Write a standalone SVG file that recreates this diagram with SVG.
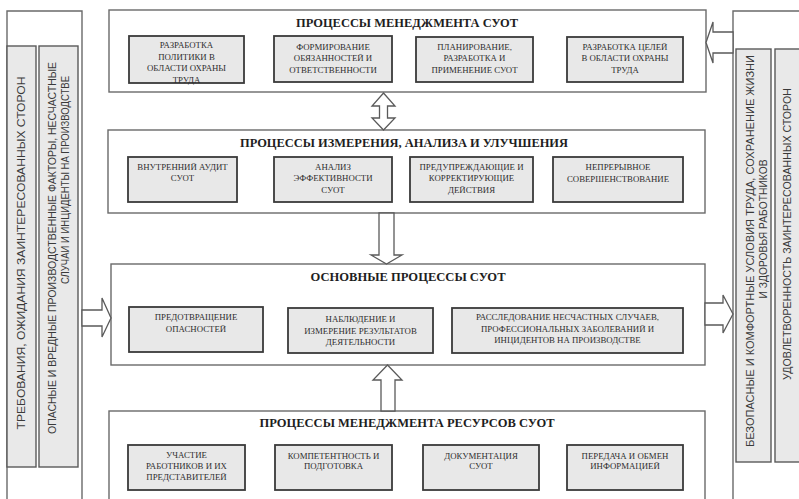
<svg xmlns="http://www.w3.org/2000/svg" width="799" height="499" viewBox="0 0 799 499">
<style>
.bg{fill:#fff}
.frame{fill:#fff;stroke:#6a6a6a;stroke-width:1.4}
.open{fill:none;stroke:#6a6a6a;stroke-width:1.4}
.strip{fill:#e9e9e9;stroke:#5a5a5a;stroke-width:1.4}
.sub{fill:#e8e8e8;stroke:#3a3a3a;stroke-width:1.8}
.arrow{fill:#fff;stroke:#5a5a5a;stroke-width:1.3;stroke-linejoin:miter}
.title{font-family:"Liberation Serif","Times New Roman",serif;font-weight:bold;font-size:12px;fill:#1e1e1e;text-anchor:middle}
.lbl{font-family:"Liberation Serif","Times New Roman",serif;font-size:8.8px;fill:#2e2e2e;text-anchor:middle}
.vt{font-family:"Liberation Sans",Arial,sans-serif;fill:#3a3a3a;text-anchor:middle}
</style>
<rect class="bg" x="0" y="0" width="799" height="499"/>

<g id="left-panel">
  <path class="open" d="M7,499 V11 H82 V499"/>
  <rect class="strip" x="7" y="46" width="29" height="421"/>
  <rect class="strip" x="39" y="46" width="39" height="421"/>
  <text class="vt" font-size="11.5" transform="translate(25,253) rotate(-90)" textLength="353" lengthAdjust="spacingAndGlyphs">ТРЕБОВАНИЯ, ОЖИДАНИЯ ЗАИНТЕРЕСОВАННЫХ СТОРОН</text>
  <text class="vt" font-size="10" transform="translate(56,248) rotate(-90)" textLength="372" lengthAdjust="spacingAndGlyphs">ОПАСНЫЕ И ВРЕДНЫЕ ПРОИЗВОДСТВЕННЫЕ ФАКТОРЫ, НЕСЧАСТНЫЕ</text>
  <text class="vt" font-size="10" transform="translate(69,180) rotate(-90)" textLength="208" lengthAdjust="spacingAndGlyphs">СЛУЧАИ И ИНЦИДЕНТЫ НА ПРОИЗВОДСТВЕ</text>
</g>

<g id="right-panel">
  <path class="open" d="M733,499 V11 H799"/>
  <rect class="strip" x="736" y="49" width="35" height="413"/>
  <rect class="strip" x="775" y="49" width="30" height="413"/>
  <text class="vt" font-size="10.3" transform="translate(754,251) rotate(-90)" textLength="392" lengthAdjust="spacingAndGlyphs">БЕЗОПАСНЫЕ И КОМФОРТНЫЕ УСЛОВИЯ ТРУДА, СОХРАНЕНИЕ ЖИЗНИ</text>
  <text class="vt" font-size="10.3" transform="translate(767,229) rotate(-90)">И ЗДОРОВЬЯ РАБОТНИКОВ</text>
  <text class="vt" font-size="10.5" transform="translate(791,234) rotate(-90)" textLength="292" lengthAdjust="spacingAndGlyphs">УДОВЛЕТВОРЕННОСТЬ ЗАИНТЕРЕСОВАННЫХ СТОРОН</text>
</g>

<g id="mgmt-processes">
  <rect class="frame" x="109" y="10" width="597" height="82"/>
  <text class="title" x="407" y="27" textLength="222" lengthAdjust="spacingAndGlyphs">ПРОЦЕССЫ МЕНЕДЖМЕНТА СУОТ</text>
  <g id="policy">
    <rect class="sub" x="129" y="36" width="115" height="47"/>
    <text class="lbl"><tspan x="186.5" y="48">РАЗРАБОТКА</tspan><tspan x="186.5" y="60">ПОЛИТИКИ В</tspan><tspan x="186.5" y="71">ОБЛАСТИ ОХРАНЫ</tspan><tspan x="186.5" y="83">ТРУДА</tspan></text>
  </g>
  <g id="responsibilities">
    <rect class="sub" x="274" y="36" width="118" height="46"/>
    <text class="lbl"><tspan x="333" y="50">ФОРМИРОВАНИЕ</tspan><tspan x="333" y="61">ОБЯЗАННОСТЕЙ И</tspan><tspan x="333" y="73">ОТВЕТСТВЕННОСТИ</tspan></text>
  </g>
  <g id="planning">
    <rect class="sub" x="416" y="37" width="117" height="45"/>
    <text class="lbl"><tspan x="474.5" y="50">ПЛАНИРОВАНИЕ,</tspan><tspan x="474.5" y="61">РАЗРАБОТКА И</tspan><tspan x="474.5" y="73">ПРИМЕНЕНИЕ СУОТ</tspan></text>
  </g>
  <g id="objectives">
    <rect class="sub" x="567" y="37" width="116" height="45"/>
    <text class="lbl"><tspan x="625" y="50">РАЗРАБОТКА ЦЕЛЕЙ</tspan><tspan x="625" y="61">В ОБЛАСТИ ОХРАНЫ</tspan><tspan x="625" y="73">ТРУДА</tspan></text>
  </g>
</g>

<g id="measurement-processes">
  <rect class="frame" x="108" y="130" width="597" height="83"/>
  <text class="title" x="404" y="147" textLength="328" lengthAdjust="spacingAndGlyphs">ПРОЦЕССЫ ИЗМЕРЕНИЯ, АНАЛИЗА И УЛУЧШЕНИЯ</text>
  <g id="audit">
    <rect class="sub" x="128" y="157" width="109" height="45"/>
    <text class="lbl"><tspan x="182.5" y="170">ВНУТРЕННИЙ АУДИТ</tspan><tspan x="182.5" y="181">СУОТ</tspan></text>
  </g>
  <g id="analysis">
    <rect class="sub" x="274" y="157" width="118" height="45"/>
    <text class="lbl"><tspan x="333" y="170">АНАЛИЗ</tspan><tspan x="333" y="181">ЭФФЕКТИВНОСТИ</tspan><tspan x="333" y="193">СУОТ</tspan></text>
  </g>
  <g id="corrective">
    <rect class="sub" x="410" y="157" width="123" height="45"/>
    <text class="lbl"><tspan x="471.5" y="170">ПРЕДУПРЕЖДАЮЩИЕ И</tspan><tspan x="471.5" y="181">КОРРЕКТИРУЮЩИЕ</tspan><tspan x="471.5" y="193">ДЕЙСТВИЯ</tspan></text>
  </g>
  <g id="improvement">
    <rect class="sub" x="553" y="157" width="130" height="45"/>
    <text class="lbl"><tspan x="618" y="170">НЕПРЕРЫВНОЕ</tspan><tspan x="618" y="182">СОВЕРШЕНСТВОВАНИЕ</tspan></text>
  </g>
</g>

<g id="core-processes">
  <rect class="frame" x="111" y="264" width="594" height="101"/>
  <text class="title" x="408" y="281" textLength="195" lengthAdjust="spacingAndGlyphs">ОСНОВНЫЕ ПРОЦЕССЫ СУОТ</text>
  <g id="prevention">
    <rect class="sub" x="129" y="307" width="134" height="45"/>
    <text class="lbl"><tspan x="196" y="320">ПРЕДОТВРАЩЕНИЕ</tspan><tspan x="196" y="332">ОПАСНОСТЕЙ</tspan></text>
  </g>
  <g id="monitoring">
    <rect class="sub" x="288" y="308" width="145" height="45"/>
    <text class="lbl"><tspan x="360.5" y="322">НАБЛЮДЕНИЕ И</tspan><tspan x="360.5" y="334">ИЗМЕРЕНИЕ РЕЗУЛЬТАТОВ</tspan><tspan x="360.5" y="345">ДЕЯТЕЛЬНОСТИ</tspan></text>
  </g>
  <g id="investigation">
    <rect class="sub" x="452" y="308" width="231" height="45"/>
    <text class="lbl"><tspan x="567.5" y="320">РАССЛЕДОВАНИЕ НЕСЧАСТНЫХ СЛУЧАЕВ,</tspan><tspan x="567.5" y="332">ПРОФЕССИОНАЛЬНЫХ ЗАБОЛЕВАНИЙ И</tspan><tspan x="567.5" y="343">ИНЦИДЕНТОВ НА ПРОИЗВОДСТВЕ</tspan></text>
  </g>
</g>

<g id="resource-processes">
  <rect class="frame" x="109" y="411" width="596" height="100"/>
  <text class="title" x="407" y="427" textLength="295" lengthAdjust="spacingAndGlyphs">ПРОЦЕССЫ МЕНЕДЖМЕНТА РЕСУРСОВ СУОТ</text>
  <g id="participation">
    <rect class="sub" x="128" y="445" width="117" height="45"/>
    <text class="lbl"><tspan x="186.5" y="458">УЧАСТИЕ</tspan><tspan x="186.5" y="469">РАБОТНИКОВ И ИХ</tspan><tspan x="186.5" y="480">ПРЕДСТАВИТЕЛЕЙ</tspan></text>
  </g>
  <g id="competence">
    <rect class="sub" x="275" y="445" width="117" height="45"/>
    <text class="lbl"><tspan x="333.5" y="459">КОМПЕТЕНТНОСТЬ И</tspan><tspan x="333.5" y="469">ПОДГОТОВКА</tspan></text>
  </g>
  <g id="documentation">
    <rect class="sub" x="423" y="445" width="116" height="45"/>
    <text class="lbl"><tspan x="481" y="459">ДОКУМЕНТАЦИЯ</tspan><tspan x="481" y="469">СУОТ</tspan></text>
  </g>
  <g id="communication">
    <rect class="sub" x="567" y="445" width="116" height="45"/>
    <text class="lbl"><tspan x="625" y="459">ПЕРЕДАЧА И ОБМЕН</tspan><tspan x="625" y="469">ИНФОРМАЦИЕЙ</tspan></text>
  </g>
</g>

<g id="connectors">
  <polygon class="arrow" points="383.5,93 395,106 387.5,106 387.5,118 395,118 383.5,130 372,118 379.5,118 379.5,106 372,106"/>
  <polygon class="arrow" points="379,213 394,213 394,255 402,255 386.5,264 371,255 379,255"/>
  <polygon class="arrow" points="381,411 381,380 373,380 387.5,365 402,380 395,380 395,411"/>
  <polygon class="arrow" points="82,310 102,310 102,298 111,318 102,337 102,326 82,326"/>
  <polygon class="arrow" points="705,303 723,303 723,295 733,314 723,333 723,325 705,325"/>
  <polygon class="arrow" points="733,32 713,32 713,22 706,42.5 713,63 713,53 733,53"/>
</g>
</svg>
